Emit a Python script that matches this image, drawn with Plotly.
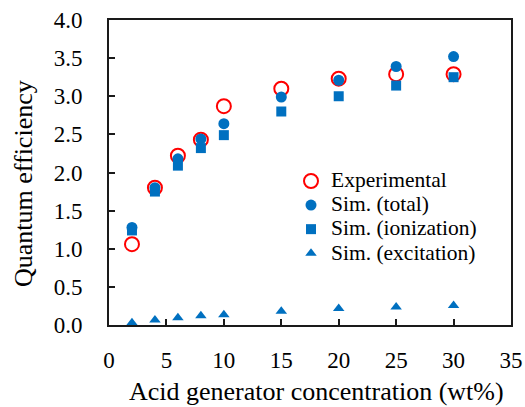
import plotly.graph_objects as go

conc = [2, 4, 6, 8, 10, 15, 20, 25, 30]
experimental = [1.06, 1.80, 2.22, 2.43, 2.87, 3.10, 3.23, 3.29, 3.29]
sim_total = [1.28, 1.80, 2.18, 2.44, 2.64, 2.99, 3.21, 3.39, 3.52]
sim_ionization = [1.24, 1.75, 2.09, 2.32, 2.49, 2.80, 3.00, 3.14, 3.25]
sim_excitation = [0.03, 0.065, 0.095, 0.12, 0.135, 0.18, 0.215, 0.235, 0.255]

x_ticks = [0, 5, 10, 15, 20, 25, 30, 35]
y_ticks = [0.0, 0.5, 1.0, 1.5, 2.0, 2.5, 3.0, 3.5, 4.0]

FONT = "Liberation Serif"
BLUE = "#0070C0"
RED = "#FF0000"
AXIS = "#1a1a1a"

# plot-area geometry in pixels (for paper-coordinate text placement)
L, R, T, B = 109, 511, 20, 325
W, H = R - L, B - T


def px_x(p):
    return (p - L) / W


def px_y(p):
    return (B - p) / H


def lbl(t):
    return f'<span style="font-size:21.5px">{t}</span>'


fig = go.Figure()
fig.add_trace(go.Scatter(x=conc, y=experimental, mode="markers", name=lbl("Experimental"),
                         marker=dict(symbol="circle-open", size=14, color=RED, line=dict(width=2, color=RED)),
                         cliponaxis=False))
fig.add_trace(go.Scatter(x=conc, y=sim_total, mode="markers", name=lbl("Sim. (total)"),
                         marker=dict(symbol="circle", size=11, color=BLUE), cliponaxis=False))
fig.add_trace(go.Scatter(x=conc, y=sim_ionization, mode="markers", name=lbl("Sim. (ionization)"),
                         marker=dict(symbol="square", size=10, color=BLUE), cliponaxis=False))
fig.add_trace(go.Scatter(x=conc, y=sim_excitation, mode="markers", name=lbl("Sim. (excitation)"),
                         marker=dict(symbol="triangle-up", size=10, color=BLUE), cliponaxis=False))

fig.update_layout(
    width=525, height=407,
    margin=dict(l=L, r=525 - R, t=T, b=407 - B, autoexpand=False),
    paper_bgcolor="white", plot_bgcolor="white",
    font=dict(family=FONT, size=23, color="black"),
    showlegend=True,
    legend=dict(x=px_x(291), y=px_y(164), xanchor="left", yanchor="top",
                font=dict(family=FONT, size=16.2, color="black"),
                bgcolor="rgba(0,0,0,0)", borderwidth=0, tracegroupgap=0),
    xaxis=dict(range=[0, 35], tickvals=x_ticks, ticktext=[str(v) for v in x_ticks],
               ticks="inside", ticklen=6, tickwidth=1.5, tickcolor=AXIS,
               showline=True, linecolor=AXIS, linewidth=2, mirror=True,
               showgrid=False, zeroline=False, ticklabelstandoff=13, automargin=False),
    yaxis=dict(range=[0, 4], tickvals=y_ticks, ticktext=[f"{v:.1f}" for v in y_ticks],
               ticks="inside", ticklen=6, tickwidth=1.5, tickcolor=AXIS,
               showline=True, linecolor=AXIS, linewidth=2, mirror=True,
               showgrid=False, zeroline=False, ticklabelstandoff=20, automargin=False),
    annotations=[
        dict(text="Quantum efficiency", textangle=-90, xref="paper", yref="paper",
             x=px_x(23.5), y=px_y(183.5), xanchor="center", yanchor="middle",
             showarrow=False, font=dict(family=FONT, size=26, color="black")),
        dict(text="Acid generator concentration (wt%)", xref="paper", yref="paper",
             x=px_x(316), y=px_y(391), xanchor="center", yanchor="middle",
             showarrow=False, font=dict(family=FONT, size=26, color="black")),
    ],
)

fig.write_html("out.html")
